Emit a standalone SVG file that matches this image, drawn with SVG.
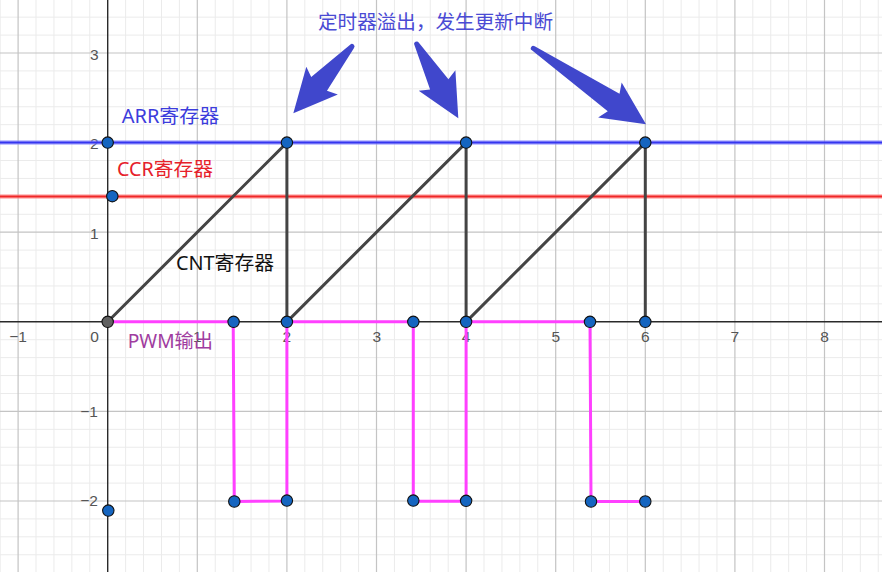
<svg xmlns="http://www.w3.org/2000/svg" width="882" height="572" viewBox="0 0 882 572">
<style>
.minor{stroke:#ebebeb;stroke-width:1;fill:none}
.major{stroke:#c4c4c4;stroke-width:1.2;fill:none}
.axis{stroke:#2a2a2a;stroke-width:1.4;fill:none}
.num{font-family:"Liberation Sans","Noto Sans",sans-serif;font-size:15.5px;fill:#555}
.cnt{stroke:#444;stroke-width:3;fill:none;stroke-linecap:round}
.pwm{stroke:#ff40ff;stroke-width:3;fill:none;stroke-linejoin:round}
.pt{fill:#1565c0;stroke:#111;stroke-width:1.1}
.lbl{font-family:"Noto Sans","Noto Sans CJK SC",sans-serif;font-size:19.5px}
.arrow{fill:#4047cc}
</style>
<rect width="882" height="572" fill="#fff"/>
<g id="grid">
<path class="minor" d="M0.18 0V572M36.02 0V572M53.94 0V572M71.86 0V572M89.78 0V572M125.62 0V572M143.54 0V572M161.46 0V572M179.38 0V572M215.22 0V572M233.14 0V572M251.06 0V572M268.98 0V572M304.82 0V572M322.74 0V572M340.66 0V572M358.58 0V572M394.42 0V572M412.34 0V572M430.26 0V572M448.18 0V572M484.02 0V572M501.94 0V572M519.86 0V572M537.78 0V572M573.62 0V572M591.54 0V572M609.46 0V572M627.38 0V572M663.22 0V572M681.14 0V572M699.06 0V572M716.98 0V572M752.82 0V572M770.74 0V572M788.66 0V572M806.58 0V572M842.42 0V572M860.34 0V572M878.26 0V572
M0 17.16H882M0 35.08H882M0 70.92H882M0 88.84H882M0 106.76H882M0 124.68H882M0 160.52H882M0 178.44H882M0 196.36H882M0 214.28H882M0 250.12H882M0 268.04H882M0 285.96H882M0 303.88H882M0 339.72H882M0 357.64H882M0 375.56H882M0 393.48H882M0 429.32H882M0 447.24H882M0 465.16H882M0 483.08H882M0 518.92H882M0 536.84H882M0 554.76H882"/>
<path class="major" d="M18.1 0V572M197.3 0V572M286.9 0V572M376.5 0V572M466.1 0V572M555.7 0V572M645.3 0V572M734.9 0V572M824.5 0V572M0 53H882M0 142.6H882M0 232.2H882M0 411.4H882M0 501H882"/>
</g>
<g id="axes">
<path class="axis" d="M0 321.8H882M107.7 0V572"/>
<g class="num" text-anchor="middle">
<text x="18.1" y="341.7">−1</text>
<text x="94.5" y="341.7">0</text>
<text x="197.3" y="341.7">1</text>
<text x="286.9" y="341.7">2</text>
<text x="376.8" y="341.7">3</text>
<text x="466.1" y="341.7">4</text>
<text x="555.7" y="341.7">5</text>
<text x="645.3" y="341.7">6</text>
<text x="734.9" y="341.7">7</text>
<text x="824.5" y="341.7">8</text>
</g>
<g class="num" text-anchor="end">
<text x="98.5" y="59.5">3</text>
<text x="98.5" y="149">2</text>
<text x="98.5" y="238.5">1</text>
<text x="98" y="416.5">−1</text>
<text x="98" y="506">−2</text>
</g>
</g>
<g id="registers">
<path d="M0 142.6H882" stroke="#8080ff" stroke-width="4.5" opacity="0.6"/>
<path d="M0 142.6H882" stroke="#3535f0" stroke-width="2"/>
<path d="M0 196.4H882" stroke="#ff8080" stroke-width="4.5" opacity="0.6"/>
<path d="M0 196.4H882" stroke="#f02828" stroke-width="2"/>
</g>
<g id="pwm">
<path class="pwm" d="M107.7 321.8H233.2L234.3 501.5L286.9 501V321.8H413.3V501.2H466.1V321.8H590L591 501.5H645.3"/>
</g>
<g id="cnt">
<path class="cnt" d="M107.7 321.8L286.9 142.6V321.8L466.1 142.6V321.8L645.3 142.6V321.8"/>
</g>
<g id="points">
<circle class="pt" cx="107.7" cy="142.6" r="5.7"/>
<circle class="pt" cx="112.3" cy="196.2" r="5.7"/>
<circle class="pt" cx="108.3" cy="510.6" r="5.7"/>
<circle class="pt" cx="286.9" cy="142.6" r="5.7"/>
<circle class="pt" cx="466.1" cy="142.6" r="5.7"/>
<circle class="pt" cx="645.3" cy="142.6" r="5.7"/>
<circle class="pt" cx="233.6" cy="321.8" r="5.7"/>
<circle class="pt" cx="286.9" cy="321.8" r="5.7"/>
<circle class="pt" cx="413.3" cy="321.8" r="5.7"/>
<circle class="pt" cx="466.1" cy="321.8" r="5.7"/>
<circle class="pt" cx="590" cy="321.8" r="5.7"/>
<circle class="pt" cx="645.3" cy="321.8" r="5.7"/>
<circle class="pt" cx="234.3" cy="501.5" r="5.7"/>
<circle class="pt" cx="286.9" cy="500.6" r="5.7"/>
<circle class="pt" cx="413.3" cy="500.6" r="5.7"/>
<circle class="pt" cx="466.1" cy="500.8" r="5.7"/>
<circle class="pt" cx="591" cy="501.5" r="5.7"/>
<circle class="pt" cx="645.3" cy="501.5" r="5.7"/>
<circle cx="107.7" cy="321.8" r="5.7" fill="#616161" stroke="#111" stroke-width="1.1"/>
</g>
<g id="arrows">
<path class="arrow" transform="translate(352 46.5) rotate(131.35)" d="M0 -2.5L49.8 -10.5L45.3 -21L88.8 0L45.3 21L49.8 10.5L0 2.5A2.5 2.5 0 0 1 0 -2.5Z"/>
<path class="arrow" transform="translate(416.7 44) rotate(60.76)" d="M0 -2.5L46.2 -10.5L41.7 -21L85.2 0L41.7 21L46.2 10.5L0 2.5A2.5 2.5 0 0 1 0 -2.5Z"/>
<path class="arrow" transform="translate(533.3 48.3) rotate(34)" d="M0 -2.5L96.9 -10.5L92.4 -21L135.9 0L92.4 21L96.9 10.5L0 2.5A2.5 2.5 0 0 1 0 -2.5Z"/>
</g>
<g id="labels" class="lbl">
<text x="318" y="28.5" fill="#4a4ad4" textLength="235" lengthAdjust="spacingAndGlyphs">定时器溢出，发生更新中断</text>
<text x="121.7" y="122.5" fill="#3c3cdc" textLength="97.6" lengthAdjust="spacingAndGlyphs">ARR寄存器</text>
<text x="117" y="175.5" fill="#e6202a" textLength="96" lengthAdjust="spacingAndGlyphs">CCR寄存器</text>
<text x="176" y="270" fill="#111" textLength="98" lengthAdjust="spacingAndGlyphs">CNT寄存器</text>
<text x="127.7" y="347.5" fill="#a03ca0" textLength="85.3" lengthAdjust="spacingAndGlyphs">PWM输出</text>
</g>
</svg>
